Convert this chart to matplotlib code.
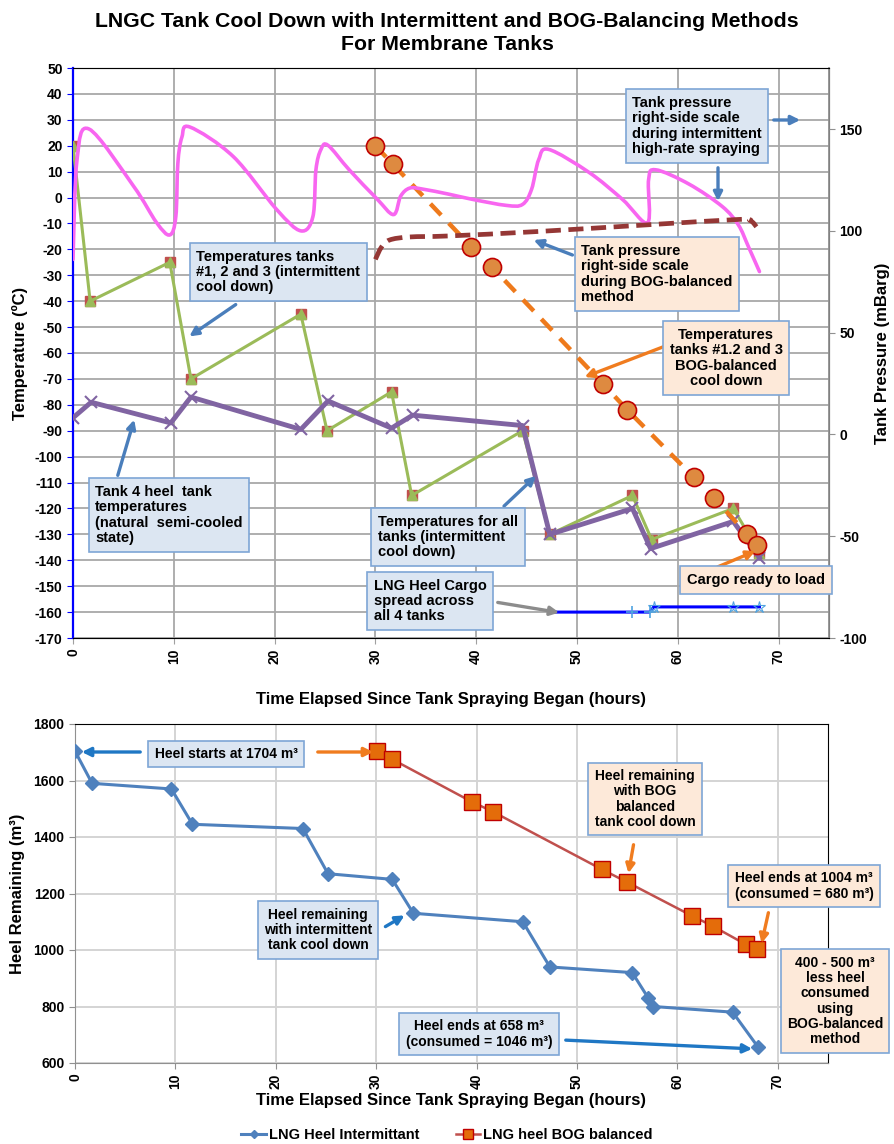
import numpy as np
import matplotlib
matplotlib.use('Agg')
import matplotlib.pyplot as plt
import matplotlib.transforms as mtransforms
from matplotlib.path import Path
from matplotlib.patches import PathPatch, FancyArrowPatch

plt.rcParams['font.family'] = ['Liberation Sans', 'DejaVu Sans']
plt.rcParams['font.weight'] = 'bold'
plt.rcParams['axes.labelweight'] = 'bold'
plt.rcParams['axes.unicode_minus'] = False

# ---------------- top chart data ----------------
# tank pressure during intermittent spraying (right axis, mBarg)
press_int_t = [0, 0.4, 1.6, 6.0, 8.3, 9.6, 10.2, 10.4, 10.8, 11.6, 15.9, 20.2, 22.6, 23.8, 24.1,
               24.6, 25.3, 27.4, 30.1, 31.8, 32.5, 33.4, 34.7, 37.3, 39.6, 43.0, 44.6, 45.5, 46.2,
               47.2, 51.2, 54.5, 57.0, 57.1, 57.8, 61.1, 64.4, 66.0, 67.0, 68.1]
press_int = [86, 135, 150, 122, 104, 98, 107, 133, 146, 151, 136.5, 110.5, 100, 107, 130,
             140, 142, 130, 116, 108, 117, 121, 120.5, 118, 115.5, 112.5, 113, 120.5, 135,
             140, 128.7, 115.5, 104, 125, 130, 123, 112, 103, 92.3, 80]

# tank pressure during BOG-balanced method (right axis, mBarg)
press_bog_t = [30, 30.6, 31.4, 33.4, 37.3, 46.2, 57.1, 66.0, 67.2, 67.8]
press_bog = [86, 92, 95.5, 97, 97.5, 99.7, 103, 105.6, 105, 102]

# temperatures tanks 1, 2, 3 intermittent (deg C)
temp123_t = [0, 1.7, 9.6, 11.7, 22.6, 25.2, 31.6, 33.6, 44.6, 47.3, 55.5, 57.4, 65.5, 68.1]
temp123 = [20, -40, -25, -70, -45, -90, -75, -115, -90, -130, -115, -132, -120, -137]

# tank 4 heel temperatures
tank4_t = [0, 1.8, 9.7, 11.7, 22.6, 25.3, 31.6, 33.7, 44.6, 47.3, 55.5, 57.3, 65.5, 68.1]
tank4 = [-85, -79, -87, -77, -89.5, -78.5, -89, -84, -88, -130, -120, -135.5, -125, -139]

# BOG-balanced temperatures tanks 1, 2, 3
bog_temp_t = [30, 31.7, 39.5, 41.6, 52.6, 55.0, 61.6, 63.6, 66.9, 67.9]
bog_temp = [20, 13, -19, -27, -72, -82, -108, -116, -130, -134]

# LNG heel cargo spread across all tanks
cargo_t_a = [47.3, 55.5, 57.2]
cargo_a = [-160, -160, -160]
cargo_t_b = [57.6, 65.5, 68.1]
cargo_b = [-158, -158, -158]

# ---------------- bottom chart data ----------------
heel_int_t = [0, 1.7, 9.6, 11.7, 22.7, 25.2, 31.6, 33.7, 44.6, 47.3, 55.5, 57.1, 57.6, 65.5, 68.0]
heel_int = [1704, 1590, 1570, 1445, 1430, 1270, 1250, 1130, 1100, 940, 920, 830, 800, 780, 658]

heel_bog_t = [30.1, 31.6, 39.5, 41.6, 52.5, 55.0, 61.5, 63.5, 66.8, 67.9]
heel_bog = [1704, 1675, 1525, 1490, 1285, 1240, 1120, 1085, 1020, 1004]

x_ticks = list(range(0, 71, 10))
temp_ticks = list(range(-170, 51, 10))
press_ticks = [-100, -50, 0, 50, 100, 150]
heel_ticks = list(range(600, 1801, 200))


def smooth_path(x, y):
    # excel-like smoothed line (catmull-rom as bezier segments)
    pts = np.column_stack([x, y]).astype(float)
    ext = np.vstack([pts[0], pts, pts[-1]])
    verts = [pts[0]]
    codes = [Path.MOVETO]
    for i in range(1, len(ext) - 2):
        p0, p1, p2, p3 = ext[i - 1], ext[i], ext[i + 1], ext[i + 2]
        verts += [p1 + (p2 - p0) / 6, p2 - (p3 - p1) / 6, p2]
        codes += [Path.CURVE4] * 3
    return Path(verts, codes)


W, H = 894, 1144
fig = plt.figure(figsize=(W / 100, H / 100), dpi=100)
px = mtransforms.Affine2D().scale(1 / W, -1 / H).translate(0, 1) + fig.transFigure

# ================= top chart =================
ax = fig.add_axes([73 / W, 1 - 638 / H, (829 - 73) / W, (638 - 68) / H])
ax2 = ax.twinx()

ax.set_xlim(0, 75)
ax.set_ylim(-170, 50)
ax2.set_ylim(-100, 180)
ax.set_xticks(x_ticks)
ax.set_yticks(temp_ticks)
ax2.set_yticks(press_ticks)
ax.grid(True, color='#a8a8a8', lw=1.3)
ax.set_axisbelow(True)

ax.plot(temp123_t, temp123, ls='none', marker='s', ms=6.5, color='#C0504D', zorder=3)
ax.plot(temp123_t, temp123, color='#9BBB59', lw=2.2, marker='^', ms=6.5, zorder=4)
ax.plot(tank4_t, tank4, color='#8064A2', lw=3.5, marker='x', ms=9, mew=1.5, zorder=5)
ax.plot(cargo_t_a + cargo_t_b, cargo_a + cargo_b, color='#0000FF', lw=2.2, zorder=4)
ax.plot(cargo_t_a[1:], cargo_a[1:], ls='none', marker='+', ms=8, mew=1.2, color='#4FA3E0', zorder=5)
ax.plot(cargo_t_b, cargo_b, ls='none', marker='*', ms=9, mew=0.8, color='#4FA3E0',
        mfc='none', zorder=5)
ax.plot(bog_temp_t, bog_temp, color='#EE7A1C', lw=3.2, dashes=(3.5, 2.5), zorder=6)
ax.plot(bog_temp_t, bog_temp, ls='none', marker='o', ms=13, mfc='#DE8A40', mec='#C00000',
        mew=1.2, zorder=7)

ax2.add_patch(PathPatch(smooth_path(press_int_t, press_int), fill=False, ec='#F866F0', lw=2.6,
                        capstyle='round'))
ax2.add_patch(PathPatch(smooth_path(press_bog_t, press_bog), fill=False, ec='#953735', lw=3.4,
                        ls=(0, (3.2, 1.6))))

for s in ['top', 'bottom']:
    ax.spines[s].set_color('#a0a0a0')
ax.spines['left'].set_color('#0000FF')
ax.spines['left'].set_linewidth(1.6)
ax2.spines['right'].set_color('#909090')
ax2.spines['right'].set_linewidth(1.3)
ax2.spines['left'].set_visible(False)
ax.tick_params(axis='y', color='#0000FF', labelsize=10, length=4)
ax.tick_params(axis='x', labelsize=10, labelrotation=90, color='#a0a0a0', length=4)
ax2.tick_params(axis='y', labelsize=10, color='#909090', length=4)
ax.set_ylabel('Temperature (ºC)', fontsize=12, labelpad=5)
ax2.set_ylabel('Tank Pressure (mBarg)', fontsize=12, labelpad=6)
ax.set_xlabel('Time Elapsed Since Tank Spraying Began (hours)', fontsize=12, labelpad=20)

fig.text(447, 33, 'LNGC Tank Cool Down with Intermittent and BOG-Balancing Methods\nFor Membrane Tanks',
         transform=px, ha='center', va='center', fontsize=15.3, linespacing=1.3)

# ================= bottom chart =================
bx = fig.add_axes([75 / W, 1 - 1063 / H, (828 - 75) / W, (1063 - 724) / H])
bx.set_xlim(0, 75)
bx.set_ylim(600, 1800)
bx.set_xticks(x_ticks)
bx.set_yticks(heel_ticks)
bx.grid(True, color='#d4d4d4', lw=1.4)
bx.set_axisbelow(True)
l1, = bx.plot(heel_int_t, heel_int, color='#4F81BD', lw=2.2, marker='D', ms=7, zorder=4)
l2, = bx.plot(heel_bog_t, heel_bog, color='#C0504D', lw=1.8, marker='s', ms=11, mfc='#E46C0A',
              mec='#C00000', mew=1.0, zorder=5)
for s in ['top', 'right']:
    bx.spines[s].set_color('black')
for s in ['left', 'bottom']:
    bx.spines[s].set_color('#909090')
bx.tick_params(axis='y', labelsize=10, color='#909090', length=4)
bx.tick_params(axis='x', labelsize=10, labelrotation=90, color='#909090', length=4)
bx.set_ylabel('Heel Remaining (m³)', fontsize=12, labelpad=6)
bx.set_xlabel('Time Elapsed Since Tank Spraying Began (hours)', fontsize=12, labelpad=3)

fig.legend([l1, l2], ['LNG Heel Intermittant', 'LNG heel BOG balanced'], loc='center',
           bbox_to_anchor=(0.5, 1 - 1135 / H), ncol=2, frameon=False, fontsize=10.5,
           markerscale=0.6, handlelength=1.7, handletextpad=0.2, columnspacing=2.5)

# ================= annotations =================
BLUE_BOX = '#DCE6F2'
PEACH_BOX = '#FDE9D9'


def note(cx, cy, s, face, align='left', fs=10.5):
    fig.text(cx, cy, s, transform=px, ha='center', va='center', multialignment=align, fontsize=fs,
             linespacing=1.12, zorder=10,
             bbox=dict(boxstyle='square,pad=0.45', fc=face, ec='#7EA6D6', lw=1.2))


def arrow(x0, y0, x1, y1, color):
    fig.add_artist(FancyArrowPatch((x0, y0), (x1, y1), transform=px, arrowstyle='-|>',
                                   mutation_scale=13, lw=2.4, color=color, zorder=9))


ARR_BLUE = '#4A7EBB'
ARR_ORANGE = '#F07C1F'

note(697, 126, 'Tank pressure\nright-side scale\nduring intermittent\nhigh-rate spraying', BLUE_BOX)
arrow(771, 120, 803, 120, ARR_BLUE)
arrow(718, 165, 718, 204, ARR_BLUE)
note(278, 272, 'Temperatures tanks\n#1, 2 and 3 (intermittent\ncool down)', BLUE_BOX)
arrow(238, 303, 187, 338, ARR_BLUE)
note(657, 274, 'Tank pressure\nright-side scale\nduring BOG-balanced\nmethod', PEACH_BOX)
arrow(575, 256, 531, 239, ARR_BLUE)
note(726, 358, 'Temperatures\ntanks #1.2 and 3\nBOG-balanced\ncool down', PEACH_BOX, align='center')
arrow(668, 345, 582, 378, ARR_ORANGE)
note(169, 515, 'Tank 4 heel  tank\ntemperatures\n(natural  semi-cooled\nstate)', BLUE_BOX)
arrow(117, 478, 135, 417, ARR_BLUE)
note(448, 537, 'Temperatures for all\ntanks (intermittent\ncool down)', BLUE_BOX)
arrow(502, 508, 538, 474, ARR_BLUE)
note(430, 601, 'LNG Heel Cargo\nspread across\nall 4 tanks', BLUE_BOX)
arrow(495, 602, 562, 613, '#8C8C8C')
note(756, 580, 'Cargo ready to load', PEACH_BOX, align='center')
arrow(715, 568, 758, 550, ARR_ORANGE)

note(226, 754, 'Heel starts at 1704 m³', BLUE_BOX, align='center', fs=10)
arrow(143, 752, 79, 752, '#1F77C4')
arrow(315, 752, 376, 752, ARR_ORANGE)
note(318, 930, 'Heel remaining\nwith intermittent\ntank cool down', BLUE_BOX, align='center', fs=10)
arrow(383, 928, 407, 914, '#1F77C4')
note(645, 799, 'Heel remaining\nwith BOG\nbalanced\ntank cool down', PEACH_BOX, align='center', fs=10)
arrow(634, 842, 628, 876, ARR_ORANGE)
note(804, 886, 'Heel ends at 1004 m³\n(consumed = 680 m³)', PEACH_BOX, align='center', fs=10)
arrow(769, 910, 761, 946, ARR_ORANGE)
note(835, 1001, '400 - 500 m³\nless heel\nconsumed\nusing\nBOG-balanced\nmethod', PEACH_BOX,
     align='center', fs=10)
note(479, 1034, 'Heel ends at 658 m³\n(consumed = 1046 m³)', BLUE_BOX, align='center', fs=10)
arrow(563, 1040, 755, 1049, '#1F77C4')

fig.savefig('out.png', dpi=100)
